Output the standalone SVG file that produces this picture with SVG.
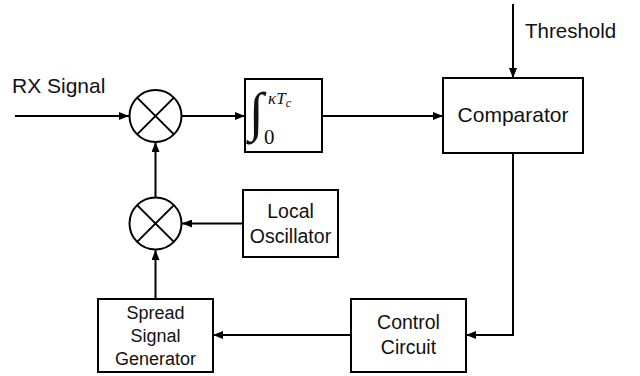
<svg xmlns="http://www.w3.org/2000/svg" width="640" height="376" viewBox="0 0 640 376">
<defs>
<marker id="arr" viewBox="0 0 10 8" refX="10" refY="4" markerWidth="10" markerHeight="8" markerUnits="userSpaceOnUse" orient="auto">
<path d="M0,0 L10,4 L0,8 Z" fill="#000"/>
</marker>
</defs>
<style>
.box{fill:#fff;stroke:#000;stroke-width:2}
.ln{fill:none;stroke:#000;stroke-width:2;marker-end:url(#arr)}
.t{font-family:"Liberation Sans",Arial,sans-serif;fill:#111;text-anchor:middle}
.m{font-family:"Liberation Serif","Times New Roman",serif;fill:#111}
</style>
<rect width="640" height="376" fill="#fff"/>
<g id="connectors">
<path class="ln" d="M15,116 H129"/>
<path class="ln" d="M182,116 H245"/>
<path class="ln" d="M322,116 H443"/>
<path class="ln" d="M513,4 V78"/>
<path class="ln" d="M513,153 V335 H466"/>
<path class="ln" d="M351,335 H213"/>
<path class="ln" d="M155.5,299 V250"/>
<path class="ln" d="M243,223.5 H182"/>
<path class="ln" d="M155.5,197 V142"/>
</g>
<g id="rx-label"><text class="t" x="12" y="93" style="text-anchor:start;font-size:21px">RX Signal</text></g>
<g id="threshold-label"><text class="t" x="525" y="38" style="text-anchor:start;font-size:20.5px">Threshold</text></g>
<g id="mixer1">
<circle class="box" cx="155.5" cy="116" r="26"/>
<path d="M137.1,97.6 L173.9,134.4 M173.9,97.6 L137.1,134.4" stroke="#000" stroke-width="2"/>
</g>
<g id="mixer2">
<circle class="box" cx="155.5" cy="223.5" r="26"/>
<path d="M137.1,205.1 L173.9,241.9 M173.9,205.1 L137.1,241.9" stroke="#000" stroke-width="2"/>
</g>
<g id="integrator">
<rect class="box" x="245" y="79" width="77" height="73"/>
<text class="m" x="249" y="130" style="font-size:54px;font-style:italic">∫</text>
<text class="m" x="264" y="144" style="font-size:21px">0</text>
<text class="m" x="268" y="104" style="font-size:17px;font-style:italic">κT<tspan dy="3" style="font-size:12px">c</tspan></text>
</g>
<g id="comparator">
<rect class="box" x="443" y="78" width="140" height="75"/>
<text class="t" x="513" y="122" style="font-size:21px">Comparator</text>
</g>
<g id="local-oscillator">
<rect class="box" x="243" y="190" width="95" height="67"/>
<text class="t" x="290.5" y="218" style="font-size:19.5px">Local</text>
<text class="t" x="290.5" y="243" style="font-size:19.5px">Oscillator</text>
</g>
<g id="control-circuit">
<rect class="box" x="351" y="299" width="115" height="73"/>
<text class="t" x="408.5" y="329" style="font-size:19.5px">Control</text>
<text class="t" x="408.5" y="354" style="font-size:19.5px">Circuit</text>
</g>
<g id="spread-generator">
<rect class="box" x="98" y="299" width="115" height="73"/>
<text class="t" x="155.5" y="319" style="font-size:18px">Spread</text>
<text class="t" x="155.5" y="342" style="font-size:18px">Signal</text>
<text class="t" x="155.5" y="365" style="font-size:18px">Generator</text>
</g>
</svg>
